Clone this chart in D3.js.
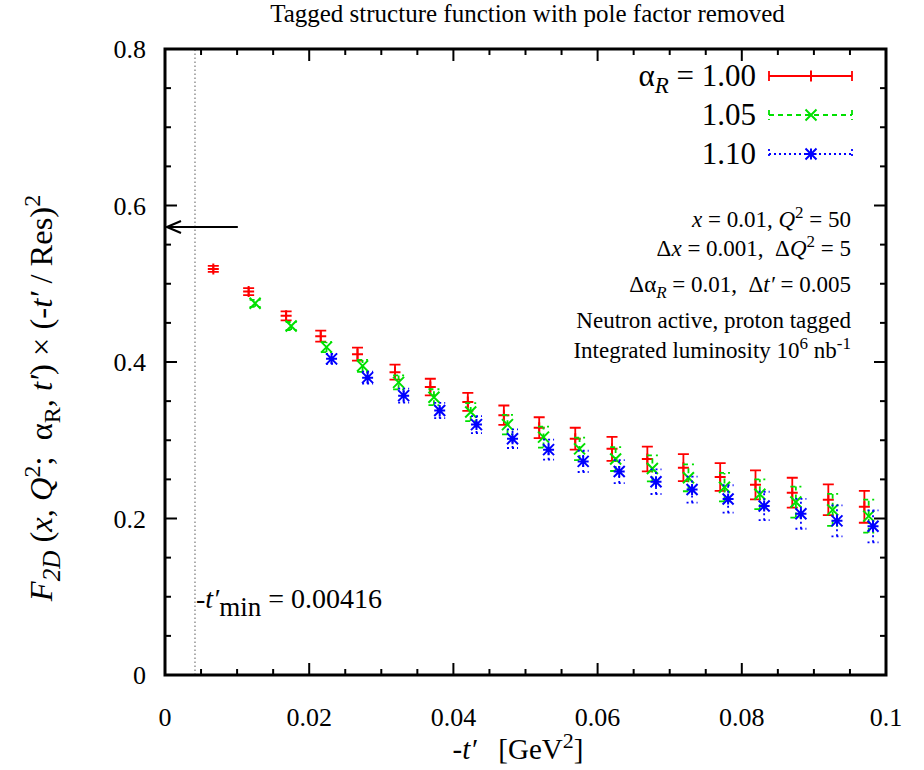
<!DOCTYPE html>
<html>
<head>
<meta charset="utf-8">
<script src="https://cdn.jsdelivr.net/npm/d3@7"></script>
<style>
  body { margin: 0; background: #fff; }
  text { font-family: "Liberation Serif", "Times New Roman", serif; fill: #000; white-space: pre; }
</style>
</head>
<body>
<div class="container"></div>
<script>
// -t' bin positions and F2D values
const tRed = [0.0067, 0.0116, 0.0168, 0.0216, 0.0267, 0.0319, 0.0368, 0.0420, 0.0470, 0.0519,
  0.0569, 0.0620, 0.0669, 0.0719, 0.0770, 0.0819, 0.0870, 0.0920, 0.0970]
const fRed = [0.519, 0.490, 0.459, 0.433, 0.410, 0.387, 0.368, 0.349, 0.332, 0.316,
  0.302, 0.289, 0.276, 0.265, 0.253, 0.243, 0.233, 0.224, 0.215]
const eRed = [0.0038, 0.0045, 0.0057, 0.0070, 0.0083, 0.0096, 0.0106, 0.0115, 0.0124, 0.0134,
  0.0140, 0.0153, 0.0159, 0.0172, 0.0178, 0.0185, 0.0191, 0.0197, 0.0204]

const tGreen = [0.0125, 0.0175, 0.0224, 0.0274, 0.0324, 0.0373, 0.0424, 0.0475, 0.0525, 0.0575,
  0.0625, 0.0676, 0.0726, 0.0776, 0.0825, 0.0875, 0.0926, 0.0976]
const fGreen = [0.475, 0.446, 0.419, 0.395, 0.374, 0.355, 0.336, 0.320, 0.304, 0.289,
  0.276, 0.264, 0.252, 0.240, 0.231, 0.221, 0.211, 0.203]
const eGreen = [0.0045, 0.0051, 0.0064, 0.0077, 0.0089, 0.0102, 0.0115, 0.0124, 0.0134, 0.0143,
  0.0153, 0.0166, 0.0172, 0.0182, 0.0191, 0.0198, 0.0204, 0.0211]

const tBlue = [0.0231, 0.0281, 0.0331, 0.0381, 0.0432, 0.0482, 0.0532, 0.0580, 0.0630, 0.0681,
  0.0731, 0.0781, 0.0831, 0.0882, 0.0932, 0.0982]
const fBlue = [0.404, 0.380, 0.357, 0.338, 0.320, 0.302, 0.288, 0.273, 0.260, 0.247,
  0.237, 0.225, 0.216, 0.206, 0.197, 0.190]
const eBlue = [0.0064, 0.0077, 0.0089, 0.0098, 0.0108, 0.0119, 0.0128, 0.0136, 0.0147, 0.0157,
  0.0166, 0.0175, 0.0182, 0.0191, 0.0198, 0.0204]

const xTicks = [0, 0.02, 0.04, 0.06, 0.08, 0.1]
const xTickLabels = ['0', '0.02', '0.04', '0.06', '0.08', '0.1']
const yTicks = [0, 0.2, 0.4, 0.6, 0.8]
const yTickLabels = ['0', '0.2', '0.4', '0.6', '0.8']
const legendLabels = ['1.00', '1.05', '1.10']
const tMin = 0.00416
const arrowY = 0.5725
const arrowTail = 0.0101

const series = [
  { t: tRed, f: fRed, e: eRed, color: '#ff0000', dash: null, marker: 'plus' },
  { t: tGreen, f: fGreen, e: eGreen, color: '#00e000', dash: '5,4', marker: 'cross' },
  { t: tBlue, f: fBlue, e: eBlue, color: '#0000ff', dash: '2,3', marker: 'star' }
]

const W = 924, H = 770
const pLeft = 165, pRight = 886, pTop = 49, pBottom = 675

const svg = d3.select('.container').append('svg')
  .attr('width', W)
  .attr('height', H)

const x = d3.scaleLinear().domain([0, 0.1]).range([pLeft, pRight])
const y = d3.scaleLinear().domain([0, 0.8]).range([pBottom, pTop])

// title
svg.append('text')
  .attr('x', (pLeft + pRight) / 2 + 2).attr('y', 22)
  .attr('text-anchor', 'middle')
  .style('font-size', '25px')
  .text('Tagged structure function with pole factor removed')

// tmin dotted line
svg.append('line')
  .attr('x1', x(tMin)).attr('x2', x(tMin))
  .attr('y1', y(0)).attr('y2', y(0.8))
  .attr('stroke', '#777').attr('stroke-width', 1.2)
  .attr('stroke-dasharray', '1.5,2.5')

// ticks: major + minor, on all four sides
const xMinor = d3.range(0, 0.1001, 0.005)
const yMinor = d3.range(0, 0.8001, 0.05)
const tickG = svg.append('g').attr('stroke', '#000').attr('stroke-width', 2)
xMinor.forEach(v => {
  const major = xTicks.some(m => Math.abs(m - v) < 1e-6)
  const len = major ? 12 : 6
  tickG.append('line').attr('x1', x(v)).attr('x2', x(v)).attr('y1', pBottom).attr('y2', pBottom - len)
  tickG.append('line').attr('x1', x(v)).attr('x2', x(v)).attr('y1', pTop).attr('y2', pTop + len)
})
yMinor.forEach(v => {
  const major = yTicks.some(m => Math.abs(m - v) < 1e-6)
  const len = major ? 12 : 6
  tickG.append('line').attr('y1', y(v)).attr('y2', y(v)).attr('x1', pLeft).attr('x2', pLeft + len)
  tickG.append('line').attr('y1', y(v)).attr('y2', y(v)).attr('x1', pRight).attr('x2', pRight - len)
})

// frame
svg.append('rect')
  .attr('x', pLeft).attr('y', pTop)
  .attr('width', pRight - pLeft).attr('height', pBottom - pTop)
  .attr('fill', 'none').attr('stroke', '#000').attr('stroke-width', 3)

// tick labels
svg.selectAll('.xl').data(xTicks).enter().append('text')
  .attr('x', d => x(d)).attr('y', 726)
  .attr('text-anchor', 'middle')
  .style('font-size', '26px')
  .text((d, i) => xTickLabels[i])
svg.selectAll('.yl').data(yTicks).enter().append('text')
  .attr('x', 146).attr('y', d => y(d) + 9)
  .attr('text-anchor', 'end')
  .style('font-size', '26px')
  .text((d, i) => yTickLabels[i])

// marker paths
function markerPath(type, cx, cy, s) {
  if (type === 'plus') return `M${cx - s},${cy}h${2 * s}M${cx},${cy - s}v${2 * s}`
  if (type === 'cross') return `M${cx - s},${cy - s}L${cx + s},${cy + s}M${cx - s},${cy + s}L${cx + s},${cy - s}`
  return `M${cx - s},${cy}h${2 * s}M${cx},${cy - s}v${2 * s}` +
    `M${cx - s},${cy - s}L${cx + s},${cy + s}M${cx - s},${cy + s}L${cx + s},${cy - s}`
}

// error bars and points
series.forEach(s => {
  const g = svg.append('g')
    .attr('stroke', s.color).attr('stroke-width', 1.8).attr('fill', 'none')
  s.t.forEach((tv, i) => {
    const cx = x(tv)
    const y1 = y(s.f[i] - s.e[i]), y2 = y(s.f[i] + s.e[i])
    const bar = g.append('path')
      .attr('d', `M${cx},${y1}V${y2}M${cx - 5.5},${y1}h11M${cx - 5.5},${y2}h11`)
    if (s.dash) bar.attr('stroke-dasharray', s.dash)
    g.append('path').attr('d', markerPath(s.marker, cx, y(s.f[i]), 5.5)).attr('stroke-width', 2)
  })
})

// legend
const legY = [76, 115, 154]
series.forEach((s, i) => {
  const ly = legY[i]
  const t = svg.append('text')
    .attr('x', 756).attr('y', ly + 10)
    .attr('text-anchor', 'end')
    .style('font-size', '31px')
  if (i === 0) {
    t.append('tspan').text('α')
    t.append('tspan').attr('dy', 7).style('font-size', '23px').style('font-style', 'italic').text('R')
    t.append('tspan').attr('dy', -7).text(' = ' + legendLabels[i])
  } else {
    t.text(legendLabels[i])
  }
  const g = svg.append('g').attr('stroke', s.color).attr('stroke-width', 1.8).attr('fill', 'none')
  const line = g.append('path').attr('d', `M769,${ly}H852M769,${ly - 5}v10M852,${ly - 5}v10`)
  if (s.dash) line.attr('stroke-dasharray', s.dash)
  g.append('path').attr('d', markerPath(s.marker, 811, ly, 5.5)).attr('stroke-width', 2)
})

// annotation block
const ann = svg.append('g').style('font-size', '23px').attr('text-anchor', 'end')
const a1 = ann.append('text').attr('x', 851).attr('y', 227)
a1.append('tspan').style('font-style', 'italic').text('x')
a1.append('tspan').text(' = 0.01, ')
a1.append('tspan').style('font-style', 'italic').text('Q')
a1.append('tspan').attr('dy', -9).style('font-size', '17px').text('2')
a1.append('tspan').attr('dy', 9).text(' = 50')
const a2 = ann.append('text').attr('x', 851).attr('y', 256)
a2.append('tspan').text('Δ')
a2.append('tspan').style('font-style', 'italic').text('x')
a2.append('tspan').text(' = 0.001,  Δ')
a2.append('tspan').style('font-style', 'italic').text('Q')
a2.append('tspan').attr('dy', -9).style('font-size', '17px').text('2')
a2.append('tspan').attr('dy', 9).text(' = 5')
const a3 = ann.append('text').attr('x', 851).attr('y', 292)
a3.append('tspan').text('Δα')
a3.append('tspan').attr('dy', 6).style('font-size', '17px').style('font-style', 'italic').text('R')
a3.append('tspan').attr('dy', -6).text(' = 0.01,  Δ')
a3.append('tspan').style('font-style', 'italic').text('t′')
a3.append('tspan').text(' = 0.005')
ann.append('text').attr('x', 851).attr('y', 328).text('Neutron active, proton tagged')
const a5 = ann.append('text').attr('x', 851).attr('y', 358)
a5.append('tspan').text('Integrated luminosity 10')
a5.append('tspan').attr('dy', -9).style('font-size', '17px').text('6')
a5.append('tspan').attr('dy', 9).text(' nb')
a5.append('tspan').attr('dy', -9).style('font-size', '17px').text('-1')

// tmin label
const tm = svg.append('text').attr('x', 196).attr('y', 608).style('font-size', '28px')
tm.append('tspan').text('-')
tm.append('tspan').style('font-style', 'italic').text('t′')
tm.append('tspan').attr('dy', 8).style('font-size', '27px').text('min')
tm.append('tspan').attr('dy', -8).text(' = 0.00416')

// arrow pointing at the axis
svg.append('path')
  .attr('d', `M${x(arrowTail)},${y(arrowY)}H${x(0) + 2}M${x(0) + 16},${y(arrowY) - 6}L${x(0) + 2},${y(arrowY)}L${x(0) + 16},${y(arrowY) + 6}`)
  .attr('stroke', '#000').attr('stroke-width', 2.2).attr('fill', 'none')

// x axis title
const xt = svg.append('text').attr('x', 518).attr('y', 759).attr('text-anchor', 'middle').style('font-size', '29px')
xt.append('tspan').text('-')
xt.append('tspan').style('font-style', 'italic').text('t′')
xt.append('tspan').text('   [GeV')
xt.append('tspan').attr('dy', -11).style('font-size', '22px').text('2')
xt.append('tspan').attr('dy', 11).text(']')

// y axis title
const yt = svg.append('text')
  .attr('transform', 'translate(52,398) rotate(-90)')
  .attr('text-anchor', 'middle')
  .style('font-size', '32.5px')
yt.append('tspan').style('font-style', 'italic').text('F')
yt.append('tspan').attr('dy', 8).style('font-size', '25px').style('font-style', 'italic').text('2D')
yt.append('tspan').attr('dy', -8).text(' (')
yt.append('tspan').style('font-style', 'italic').text('x')
yt.append('tspan').text(', ')
yt.append('tspan').style('font-style', 'italic').text('Q')
yt.append('tspan').attr('dy', -12).style('font-size', '24px').text('2')
yt.append('tspan').attr('dy', 12).text(';  α')
yt.append('tspan').attr('dy', 8).style('font-size', '24px').text('R')
yt.append('tspan').attr('dy', -8).text(', ')
yt.append('tspan').style('font-style', 'italic').text('t′')
yt.append('tspan').text(') × (-')
yt.append('tspan').style('font-style', 'italic').text('t′')
yt.append('tspan').text(' / Res)')
yt.append('tspan').attr('dy', -12).style('font-size', '24px').text('2')
</script>
</body>
</html>
